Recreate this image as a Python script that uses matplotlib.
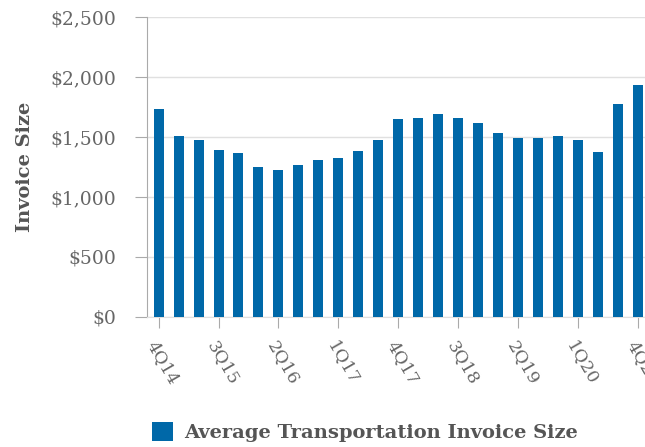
import matplotlib
matplotlib.use('Agg')
import matplotlib.pyplot as plt

# quarterly invoice size values
quarters = ['4Q14', '1Q15', '2Q15', '3Q15', '4Q15', '1Q16', '2Q16', '3Q16', '4Q16',
            '1Q17', '2Q17', '3Q17', '4Q17', '1Q18', '2Q18', '3Q18', '4Q18',
            '1Q19', '2Q19', '3Q19', '4Q19', '1Q20', '2Q20', '3Q20', '4Q20']
invoice = [1733, 1506, 1475, 1392, 1364, 1253, 1225, 1264, 1308,
           1322, 1383, 1475, 1647, 1661, 1692, 1661, 1619,
           1536, 1489, 1489, 1506, 1475, 1378, 1778, 1933]
yticks = [0, 500, 1000, 1500, 2000, 2500]
ytick_labels = ['$0', '$500', '$1,000', '$1,500', '$2,000', '$2,500']
series_name = 'Average Transportation Invoice Size'

plt.rcParams['font.family'] = ['DejaVu Serif']
bar_color = '#0068a8'
txt = '#666666'

fig = plt.figure(figsize=(6.45, 4.47), dpi=100)
ax = fig.add_axes([147/645, 1 - 317/447, 1 - 147/645, 300/447])

x = list(range(len(quarters)))
bars = ax.bar(x, invoice, width=0.5, color=bar_color, zorder=3, label=series_name)

ax.set_xlim(-0.58, 24.35)
ax.set_ylim(0, 2500)
ax.set_yticks(yticks)
ax.set_yticklabels(ytick_labels, color=txt, fontsize=13.5)
ax.set_xticks(x[::3])
ax.set_xticklabels(quarters[::3], rotation=-60, ha='left', va='top',
                   rotation_mode='anchor', color=txt, fontsize=12.5)

ax.grid(axis='y', color='#e0e0e0', linewidth=1, zorder=0)
for s in ['top', 'right']:
    ax.spines[s].set_visible(False)
ax.spines['bottom'].set_color('#e0e0e0')
ax.spines['left'].set_color('#aaaaaa')
ax.tick_params(axis='y', length=9, color='#aaaaaa', pad=13)
ax.tick_params(axis='x', length=8, color='#aaaaaa', pad=7)

ax.set_ylabel('Invoice Size', fontsize=14, fontweight='bold', color='#555555', labelpad=12)

leg = fig.legend(handles=[bars], loc='center left', bbox_to_anchor=(134/645, 1 - 432/447),
                 frameon=False, fontsize=14, handlelength=1.1, handleheight=1.1,
                 handletextpad=0.6)
for t in leg.get_texts():
    t.set_fontweight('bold')
    t.set_color('#555555')

fig.savefig('out.png', dpi=100)
